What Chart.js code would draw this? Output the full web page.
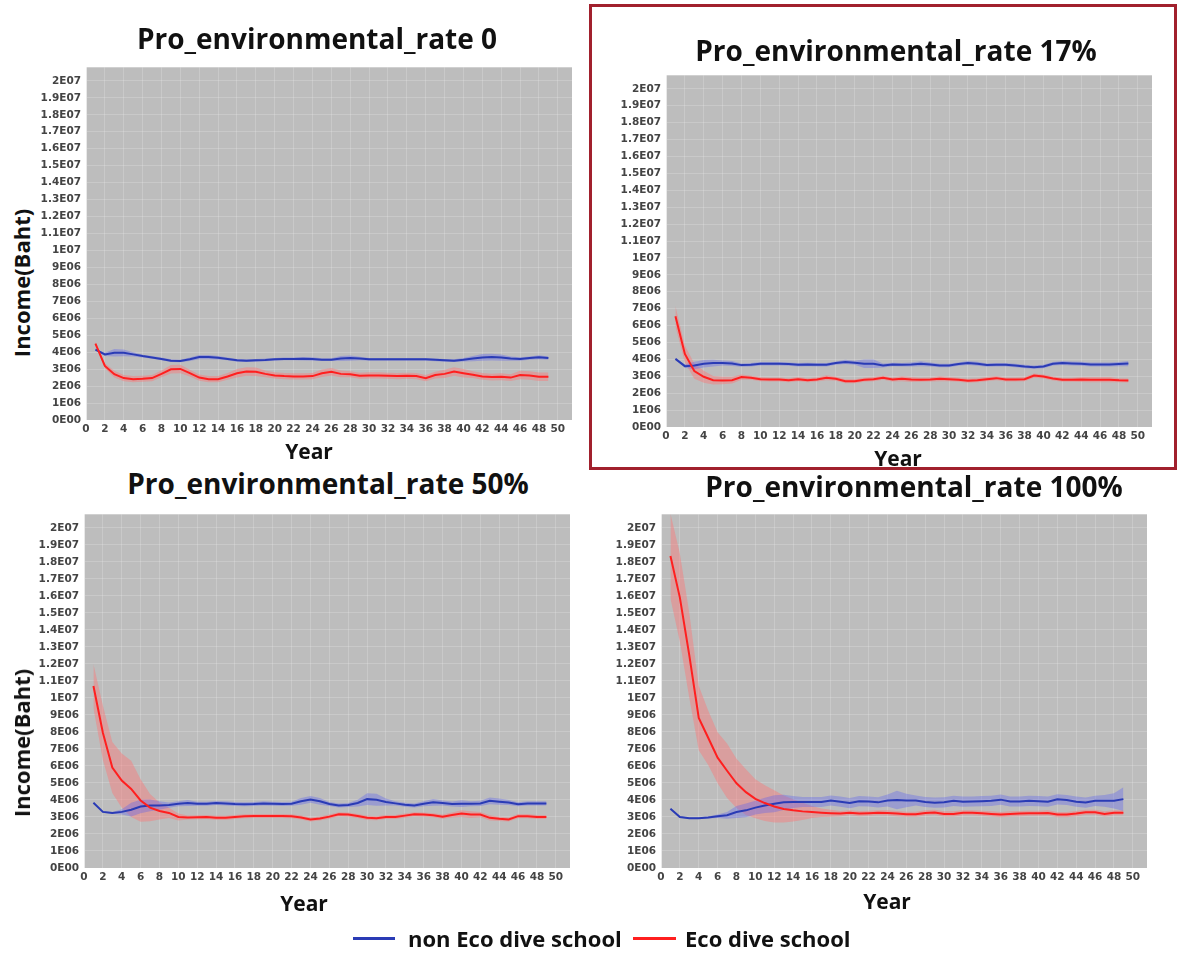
<!DOCTYPE html>
<html>
<head>
<meta charset="utf-8">
<title>Income by pro-environmental rate</title>
<script src="https://cdn.jsdelivr.net/npm/chart.js@4.4.1/dist/chart.umd.min.js"></script>
<style>
  body { margin: 0; background: #fff; }
  #page { position: relative; width: 1178px; height: 953px; overflow: hidden; font-family: "Open Sans", "Noto Sans", sans-serif; color: #111; }
  .panel { position: absolute; }
  .lbl { position: absolute; font-weight: 700; line-height: 1; white-space: nowrap; transform: translate(-50%, -50%); }
  .ptitle { font-size: 28px; }
  .xtitle { font-size: 21px; }
  .ytitle { font-size: 22px; transform: translate(-50%, -50%) rotate(-90deg); }
  .frame { position: absolute; left: 589px; top: 4px; width: 588px; height: 466px; box-sizing: border-box; border: 3px solid #a1202d; }
  .legend-line { position: absolute; height: 3px; }
  .legend-text { position: absolute; font-size: 22px; font-weight: 700; line-height: 1; transform: translateY(-50%); white-space: nowrap; }
</style>
</head>
<body>
<div id="page">
  <div class="frame"></div>

  <div class="panel" style="left:36px; top:56px; width:536px; height:388px;"><canvas id="chart0" width="536" height="388"></canvas></div>
  <div class="panel" style="left:616px; top:64px; width:536px; height:387px;"><canvas id="chart17" width="536" height="387"></canvas></div>
  <div class="panel" style="left:34px; top:503px; width:536px; height:389px;"><canvas id="chart50" width="536" height="389"></canvas></div>
  <div class="panel" style="left:611px; top:503px; width:536px; height:389px;"><canvas id="chart100" width="536" height="389"></canvas></div>

  <div class="lbl ptitle" style="left:317px; top:38px;">Pro_environmental_rate 0</div>
  <div class="lbl ptitle" style="left:896px; top:50px;">Pro_environmental_rate 17%</div>
  <div class="lbl ptitle" style="left:328px; top:483px;">Pro_environmental_rate 50%</div>
  <div class="lbl ptitle" style="left:914px; top:486px;">Pro_environmental_rate 100%</div>

  <div class="lbl xtitle" style="left:309px; top:451px;">Year</div>
  <div class="lbl xtitle" style="left:898px; top:458px;">Year</div>
  <div class="lbl xtitle" style="left:304px; top:903px;">Year</div>
  <div class="lbl xtitle" style="left:887px; top:901px;">Year</div>

  <div class="lbl ytitle" style="left:21px; top:283px;">Income(Baht)</div>
  <div class="lbl ytitle" style="left:21px; top:743px;">Income(Baht)</div>

  <div class="legend-line" style="left:353px; top:937px; width:42px; background:#2a3bb5;"></div>
  <div class="legend-text" style="left:408px; top:938px;">non Eco dive school</div>
  <div class="legend-line" style="left:633px; top:937px; width:43px; background:#ff1f1f;"></div>
  <div class="legend-text" style="left:685px; top:938px;">Eco dive school</div>
</div>

<script>
// years simulated
const years = [1, 2, 3, 4, 5, 6, 7, 8, 9, 10, 11, 12, 13, 14, 15, 16, 17, 18, 19, 20,
  21, 22, 23, 24, 25, 26, 27, 28, 29, 30, 31, 32, 33, 34, 35, 36, 37, 38, 39, 40,
  41, 42, 43, 44, 45, 46, 47, 48, 49];

const xTickLabels = ['0', '2', '4', '6', '8', '10', '12', '14', '16', '18', '20', '22', '24',
  '26', '28', '30', '32', '34', '36', '38', '40', '42', '44', '46', '48', '50'];
const yTickLabels = ['0E00', '1E06', '2E06', '3E06', '4E06', '5E06', '6E06', '7E06', '8E06', '9E06',
  '1E07', '1.1E07', '1.2E07', '1.3E07', '1.4E07', '1.5E07', '1.6E07', '1.7E07', '1.8E07', '1.9E07', '2E07'];

// income in millions of Baht (mean and half-width of the shaded band)
const rate0Non = [4.15, 3.87, 3.96, 3.96, 3.87, 3.77, 3.69, 3.60, 3.50, 3.48, 3.58, 3.71, 3.71, 3.67, 3.60, 3.52, 3.50, 3.52, 3.54, 3.58,
  3.60, 3.60, 3.61, 3.60, 3.56, 3.56, 3.63, 3.65, 3.63, 3.58, 3.58, 3.58, 3.58, 3.58, 3.58, 3.58, 3.55, 3.52, 3.50, 3.55,
  3.62, 3.69, 3.71, 3.68, 3.62, 3.60, 3.65, 3.70, 3.65];
const rate0NonSpread = [0.05, 0.10, 0.22, 0.20, 0.12, 0.08, 0.08, 0.08, 0.08, 0.08, 0.10, 0.12, 0.12, 0.10, 0.08, 0.08, 0.08, 0.08, 0.08, 0.08,
  0.08, 0.08, 0.10, 0.10, 0.08, 0.08, 0.15, 0.15, 0.10, 0.08, 0.08, 0.08, 0.08, 0.08, 0.08, 0.08, 0.08, 0.08, 0.08, 0.10,
  0.15, 0.20, 0.20, 0.18, 0.12, 0.10, 0.10, 0.12, 0.10];
const rate0Eco = [4.51, 3.19, 2.70, 2.47, 2.41, 2.43, 2.47, 2.72, 2.99, 3.01, 2.76, 2.50, 2.41, 2.41, 2.57, 2.76, 2.86, 2.84, 2.72, 2.63,
  2.59, 2.57, 2.57, 2.59, 2.76, 2.84, 2.72, 2.70, 2.61, 2.63, 2.63, 2.61, 2.59, 2.61, 2.59, 2.47, 2.65, 2.72, 2.86, 2.76,
  2.67, 2.57, 2.53, 2.55, 2.50, 2.65, 2.63, 2.55, 2.55];
const rate0EcoSpread = [0.10, 0.15, 0.20, 0.18, 0.18, 0.18, 0.18, 0.20, 0.25, 0.25, 0.20, 0.18, 0.18, 0.18, 0.20, 0.25, 0.25, 0.25, 0.20, 0.18,
  0.18, 0.18, 0.18, 0.18, 0.22, 0.22, 0.20, 0.18, 0.18, 0.18, 0.18, 0.18, 0.18, 0.18, 0.18, 0.18, 0.20, 0.25, 0.25, 0.25,
  0.20, 0.20, 0.20, 0.20, 0.20, 0.25, 0.25, 0.25, 0.25];

const rate17Non = [4.03, 3.60, 3.64, 3.74, 3.78, 3.78, 3.76, 3.66, 3.68, 3.74, 3.74, 3.74, 3.72, 3.68, 3.70, 3.68, 3.68, 3.78, 3.85, 3.80,
  3.74, 3.74, 3.64, 3.70, 3.68, 3.70, 3.74, 3.70, 3.64, 3.64, 3.72, 3.78, 3.74, 3.66, 3.68, 3.68, 3.64, 3.58, 3.54, 3.58,
  3.74, 3.78, 3.76, 3.74, 3.70, 3.70, 3.70, 3.72, 3.75];
const rate17NonSpread = [0.05, 0.10, 0.22, 0.22, 0.20, 0.15, 0.15, 0.10, 0.10, 0.10, 0.10, 0.10, 0.10, 0.10, 0.10, 0.10, 0.10, 0.10, 0.12, 0.12,
  0.25, 0.25, 0.12, 0.10, 0.10, 0.12, 0.15, 0.12, 0.10, 0.10, 0.10, 0.12, 0.12, 0.10, 0.10, 0.10, 0.10, 0.10, 0.10, 0.10,
  0.10, 0.12, 0.12, 0.12, 0.12, 0.12, 0.12, 0.12, 0.15];
const rate17Eco = [6.55, 4.32, 3.31, 2.97, 2.77, 2.75, 2.77, 2.95, 2.91, 2.83, 2.81, 2.81, 2.77, 2.83, 2.77, 2.81, 2.91, 2.85, 2.71, 2.71,
  2.79, 2.83, 2.91, 2.81, 2.85, 2.81, 2.79, 2.81, 2.85, 2.83, 2.79, 2.73, 2.77, 2.83, 2.89, 2.81, 2.81, 2.83, 3.04, 2.99,
  2.87, 2.79, 2.79, 2.81, 2.80, 2.80, 2.80, 2.76, 2.75];
const rate17EcoSpread = [0.60, 0.50, 0.45, 0.35, 0.25, 0.22, 0.20, 0.15, 0.12, 0.12, 0.12, 0.12, 0.12, 0.12, 0.12, 0.12, 0.15, 0.12, 0.12, 0.12,
  0.12, 0.12, 0.12, 0.12, 0.15, 0.15, 0.12, 0.12, 0.15, 0.12, 0.12, 0.12, 0.12, 0.12, 0.12, 0.12, 0.12, 0.12, 0.12, 0.12,
  0.12, 0.12, 0.12, 0.15, 0.15, 0.15, 0.15, 0.12, 0.12];

const rate50Non = [3.84, 3.30, 3.24, 3.30, 3.43, 3.62, 3.68, 3.68, 3.70, 3.78, 3.82, 3.78, 3.78, 3.82, 3.80, 3.76, 3.75, 3.76, 3.80, 3.78,
  3.76, 3.78, 3.92, 4.03, 3.92, 3.76, 3.68, 3.70, 3.82, 4.05, 4.01, 3.88, 3.80, 3.72, 3.68, 3.78, 3.86, 3.82, 3.76, 3.78,
  3.78, 3.80, 3.95, 3.90, 3.85, 3.75, 3.80, 3.80, 3.80];
const rate50NonSpread = [0.05, 0.05, 0.05, 0.15, 0.40, 0.40, 0.35, 0.25, 0.15, 0.15, 0.18, 0.12, 0.12, 0.12, 0.12, 0.12, 0.12, 0.12, 0.12, 0.12,
  0.12, 0.12, 0.20, 0.20, 0.20, 0.12, 0.12, 0.12, 0.20, 0.35, 0.35, 0.20, 0.12, 0.12, 0.12, 0.15, 0.20, 0.15, 0.15, 0.20,
  0.15, 0.15, 0.20, 0.18, 0.15, 0.12, 0.12, 0.12, 0.12];
const rate50Eco = [10.70, 7.95, 5.91, 5.14, 4.65, 3.97, 3.55, 3.35, 3.24, 3.00, 2.97, 2.98, 3.00, 2.95, 2.95, 3.00, 3.04, 3.06, 3.06, 3.06,
  3.06, 3.04, 2.97, 2.85, 2.91, 3.02, 3.16, 3.14, 3.06, 2.95, 2.93, 3.00, 3.00, 3.08, 3.16, 3.14, 3.10, 3.02, 3.12, 3.20,
  3.14, 3.14, 2.95, 2.89, 2.85, 3.05, 3.05, 3.00, 3.00];
const rate50EcoSpread = [1.30, 1.60, 1.50, 1.60, 1.65, 1.25, 0.80, 0.50, 0.30, 0.20, 0.12, 0.12, 0.12, 0.12, 0.12, 0.12, 0.12, 0.12, 0.12, 0.12,
  0.12, 0.12, 0.12, 0.12, 0.12, 0.12, 0.12, 0.12, 0.12, 0.12, 0.12, 0.12, 0.12, 0.12, 0.12, 0.12, 0.12, 0.12, 0.15, 0.20,
  0.20, 0.15, 0.15, 0.12, 0.12, 0.12, 0.12, 0.12, 0.12];

const rate100Non = [3.49, 3.00, 2.93, 2.93, 2.97, 3.04, 3.10, 3.29, 3.39, 3.55, 3.68, 3.78, 3.86, 3.88, 3.88, 3.88, 3.88, 3.97, 3.90, 3.82,
  3.93, 3.91, 3.86, 3.97, 4.00, 3.97, 3.97, 3.88, 3.84, 3.86, 3.95, 3.90, 3.91, 3.93, 3.95, 4.02, 3.91, 3.91, 3.95, 3.93,
  3.90, 4.04, 4.00, 3.90, 3.85, 3.95, 3.95, 3.95, 4.05];
const rate100NonSpread = [0.04, 0.04, 0.04, 0.05, 0.06, 0.10, 0.20, 0.35, 0.40, 0.40, 0.45, 0.50, 0.45, 0.35, 0.30, 0.30, 0.30, 0.30, 0.30, 0.30,
  0.30, 0.30, 0.30, 0.35, 0.55, 0.40, 0.30, 0.30, 0.30, 0.30, 0.30, 0.30, 0.30, 0.30, 0.30, 0.30, 0.30, 0.30, 0.30, 0.30,
  0.30, 0.30, 0.30, 0.30, 0.30, 0.30, 0.35, 0.45, 0.70];
const rate100Eco = [18.35, 15.90, 12.50, 8.82, 7.66, 6.49, 5.72, 4.98, 4.46, 4.07, 3.82, 3.62, 3.47, 3.39, 3.33, 3.29, 3.25, 3.22, 3.20, 3.25,
  3.20, 3.22, 3.25, 3.24, 3.20, 3.16, 3.16, 3.24, 3.27, 3.18, 3.18, 3.25, 3.25, 3.22, 3.18, 3.14, 3.18, 3.20, 3.22, 3.22,
  3.24, 3.14, 3.14, 3.20, 3.28, 3.28, 3.18, 3.25, 3.25];
const rate100EcoSpread = [2.50, 2.60, 2.50, 1.90, 1.60, 1.50, 1.60, 1.45, 1.35, 1.15, 1.05, 0.95, 0.80, 0.65, 0.50, 0.35, 0.25, 0.20, 0.15, 0.15,
  0.15, 0.15, 0.15, 0.15, 0.15, 0.15, 0.15, 0.15, 0.15, 0.15, 0.15, 0.15, 0.15, 0.15, 0.15, 0.15, 0.15, 0.15, 0.15, 0.15,
  0.15, 0.15, 0.15, 0.15, 0.15, 0.15, 0.15, 0.15, 0.15];

const panels = [
  { id: 'chart0', non: rate0Non, nonSpread: rate0NonSpread, eco: rate0Eco, ecoSpread: rate0EcoSpread },
  { id: 'chart17', non: rate17Non, nonSpread: rate17NonSpread, eco: rate17Eco, ecoSpread: rate17EcoSpread },
  { id: 'chart50', non: rate50Non, nonSpread: rate50NonSpread, eco: rate50Eco, ecoSpread: rate50EcoSpread },
  { id: 'chart100', non: rate100Non, nonSpread: rate100NonSpread, eco: rate100Eco, ecoSpread: rate100EcoSpread }
];

const NON_COLOR = '#2a3bb5';
const ECO_COLOR = '#ff1f1f';
const NON_BAND = 'rgba(90, 95, 240, 0.35)';
const ECO_BAND = 'rgba(255, 115, 115, 0.42)';

// gray plotting area behind the data
const plotBackground = {
  id: 'plotBackground',
  beforeDraw(chart) {
    const { ctx, chartArea } = chart;
    ctx.save();
    ctx.fillStyle = '#bdbdbd';
    ctx.fillRect(chartArea.left, chartArea.top, chartArea.width, chartArea.height);
    ctx.restore();
  }
};

function points(values, offsets, sign) {
  return values.map((v, i) => ({ x: years[i], y: offsets ? v + sign * offsets[i] : v }));
}

function bandPair(values, spread, color) {
  const base = { borderWidth: 0, pointRadius: 0, backgroundColor: color, order: 2 };
  return [
    Object.assign({}, base, { data: points(values, spread, 1), fill: '+1' }),
    Object.assign({}, base, { data: points(values, spread, -1), fill: false })
  ];
}

const tickFont = { family: 'DejaVu Sans', size: 10.5, weight: 'bold' };

panels.forEach(panel => {
  const datasets = [
    ...bandPair(panel.non, panel.nonSpread, NON_BAND),
    ...bandPair(panel.eco, panel.ecoSpread, ECO_BAND),
    { label: 'non Eco dive school', data: points(panel.non), borderColor: NON_COLOR, borderWidth: 2, pointRadius: 0, fill: false, order: 1 },
    { label: 'Eco dive school', data: points(panel.eco), borderColor: ECO_COLOR, borderWidth: 2, pointRadius: 0, fill: false, order: 0 }
  ];

  new Chart(document.getElementById(panel.id), {
    type: 'line',
    data: { datasets: datasets },
    plugins: [plotBackground],
    options: {
      responsive: false,
      animation: false,
      devicePixelRatio: 1,
      layout: { padding: { top: 6, right: 0, bottom: 0, left: 0 } },
      plugins: {
        legend: { display: false },
        tooltip: { enabled: false }
      },
      scales: {
        x: {
          type: 'linear',
          min: 0,
          max: 51.5,
          afterBuildTicks: scale => { scale.ticks = xTickLabels.map(l => ({ value: Number(l) })); },
          afterFit: scale => { scale.height = 24; },
          ticks: {
            autoSkip: false,
            maxRotation: 0,
            padding: 3,
            color: '#444',
            font: tickFont,
            callback: (value, index) => xTickLabels[index]
          },
          grid: { color: 'rgba(255, 255, 255, 0.18)', drawTicks: false },
          border: { color: 'rgba(255, 255, 255, 0.6)' }
        },
        y: {
          min: 0,
          max: 20.8,
          afterBuildTicks: scale => { scale.ticks = yTickLabels.map((l, i) => ({ value: i })); },
          afterFit: scale => { scale.width = 50; },
          ticks: {
            autoSkip: false,
            padding: 5,
            color: '#444',
            font: tickFont,
            callback: (value, index) => yTickLabels[index]
          },
          grid: { color: 'rgba(255, 255, 255, 0.18)', drawTicks: false },
          border: { color: 'rgba(255, 255, 255, 0.6)' }
        }
      }
    }
  });
});
</script>
</body>
</html>
